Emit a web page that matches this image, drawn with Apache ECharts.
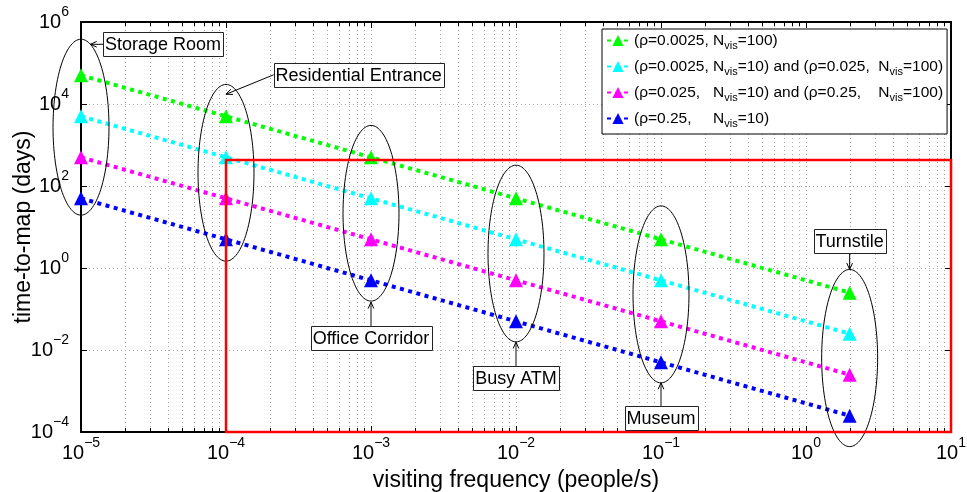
<!DOCTYPE html>
<html>
<head>
<meta charset="utf-8">
<script src="https://cdn.jsdelivr.net/npm/echarts@6/dist/echarts.min.js"></script>
<style>
  html, body { margin: 0; padding: 0; background: #fff; }
  #chart { width: 967px; height: 492px; }
</style>
</head>
<body>
<div id="chart"></div>
<script>
// ---- data ----
const frequencies = [1e-5, 1e-4, 1e-3, 1e-2, 1e-1, 2];
const seriesNames = [
  '(ρ=0.0025, Nvis=100)',
  '(ρ=0.0025, Nvis=10) and (ρ=0.025,  Nvis=100)',
  '(ρ=0.025,   Nvis=10) and (ρ=0.25,    Nvis=100)',
  '(ρ=0.25,     Nvis=10)'
];
const greenValues   = [5e4, 5e3, 500, 50, 5, 0.25];
const cyanValues    = [5e3, 500, 50, 5, 0.5, 0.025];
const magentaValues = [500, 50, 5, 0.5, 0.05, 0.0025];
const blueValues    = [50, 5, 0.5, 0.05, 0.005, 0.00025];

const xDecades = [1e-5, 1e-4, 1e-3, 1e-2, 1e-1, 1];
const minorMultipliers = [2, 3, 4, 5, 6, 7, 8, 9];

const placeNames    = ['Storage Room', 'Residential Entrance', 'Office Corridor', 'Busy ATM', 'Museum', 'Turnstile'];
const groupX        = [1e-5, 1e-4, 1e-3, 1e-2, 1e-1, 2];
const groupTop      = [3.8e5, 3.0e4, 3.0e3, 321, 32.7, 0.92];
const groupBottom   = [19.5, 1.47, 0.156, 0.0158, 1.58e-3, 4.4e-5];

const regionCorners = [1e-4, 1e-4, 10, 430];

// ---- styling ----
const FONT = '"Liberation Sans", Arial, Helvetica, sans-serif';
const colors = ['#00ff00', '#00ffff', '#ff00ff', '#0000ff'];
const GRID_COLOR = '#a8a8a8';
const ELLIPSE_HALF_WIDTH_DEC = 0.193;   // half width of a group ellipse, in decades of x
const LABEL_FONT_SIZE = 18;
const BOX_PAD_X = 2, BOX_PAD_Y = 3;

// callout boxes placed in data space; arrows point at the group ellipses
const callouts = [
  { box: [3.68e-5, 2.86e5], tip: [1.16e-5, 2.86e5], from: 'left',   line: '#000', width: 1 },
  { box: [8.22e-4, 5.16e4], tip: [1.0e-4, 1.73e4],  from: 'left',   line: '#000', width: 1 },
  { box: [1e-3, 0.0195],    tip: [1e-3, 0.147],     from: 'top',    line: '#6a6a6a', width: 1.6 },
  { box: [1e-2, 2.05e-3],   tip: [1e-2, 0.0156],    from: 'top',    line: '#6a6a6a', width: 1.6 },
  { box: [1e-1, 2.16e-4],   tip: [1e-1, 1.58e-3],   from: 'top',    line: '#6a6a6a', width: 1.6 },
  { box: [2, 4.65],         tip: [2, 0.92],         from: 'bottom', line: '#000', width: 1 }
];

const measureCtx = document.createElement('canvas').getContext('2d');
function textWidth(str, size) {
  measureCtx.font = size + 'px ' + FONT;
  return measureCtx.measureText(str).width;
}

function powerLabel(v) {
  const e = Math.round(Math.log10(v));
  return '{b|10}{s|' + (e < 0 ? '\u2212' : '') + Math.abs(e) + '}';
}
const powerRich = {
  b: { fontSize: 20, fontFamily: FONT, color: '#000' },
  s: { fontSize: 14, fontFamily: FONT, color: '#000', padding: [0, 0, 20, 0] }
};

const minorValues = [];
xDecades.forEach(d => minorMultipliers.forEach(m => minorValues.push([d * m, 1])));

const valueSets = [greenValues, cyanValues, magentaValues, blueValues];
const lineSeries = valueSets.map((vals, k) => ({
  name: seriesNames[k],
  type: 'line',
  xAxisIndex: 0,
  yAxisIndex: 0,
  data: frequencies.map((f, i) => [f, vals[i]]),
  symbol: 'triangle',
  symbolSize: 14,
  showSymbol: true,
  clip: false,
  z: 3,
  color: colors[k],
  itemStyle: { color: colors[k], borderWidth: 0 },
  lineStyle: { color: colors[k], width: 4, type: [4, 4.5], cap: 'butt' },
  emphasis: { disabled: true }
}));

const chart = echarts.init(document.getElementById('chart'), null, { renderer: 'canvas' });

const commonX = { type: 'log', logBase: 10, min: 1e-5, max: 10, splitNumber: 6 };
const commonY = { type: 'log', logBase: 100, min: 1e-4, max: 1e6, splitNumber: 5 };

chart.setOption({
  animation: false,
  backgroundColor: '#fff',
  grid: { left: 81, right: 16, top: 22, bottom: 60, outerBoundsMode: 'none', show: false },
  legend: {
    orient: 'vertical',
    left: 602,
    top: 29,
    itemWidth: 22,
    itemHeight: 14,
    itemGap: 5,
    padding: [1, 4, 5, 4],
    backgroundColor: '#fff',
    borderColor: '#000',
    borderWidth: 1,
    borderRadius: 0,
    selectedMode: false,
    data: seriesNames,
    formatter: n => n.replace(/Nvis/g, 'N{sub|vis}'),
    textStyle: {
      fontFamily: FONT, fontSize: 15.5, color: '#000', lineHeight: 18,
      rich: { sub: { fontFamily: FONT, fontSize: 11, lineHeight: 10, color: '#000', padding: [10, 0, 0, 0] } }
    }
  },
  xAxis: [
    Object.assign({}, commonX, {
      position: 'bottom',
      name: 'visiting frequency (people/s)',
      nameLocation: 'middle',
      nameGap: 37,
      nameMoveOverlap: false,
      nameTextStyle: { fontFamily: FONT, fontSize: 23, color: '#000' },
      axisLine: { show: true, onZero: false, lineStyle: { color: '#000', width: 2 } },
      axisTick: { show: true, inside: true, length: 6, lineStyle: { color: '#000', width: 1 } },
      axisLabel: { show: true, margin: 4, formatter: powerLabel, rich: powerRich, showMinLabel: true, showMaxLabel: true },
      splitLine: { show: true, lineStyle: { color: GRID_COLOR, width: 1, type: [1, 3] } },
      minorTick: { show: false },
      minorSplitLine: { show: false }
    }),
    Object.assign({}, commonX, {
      position: 'top',
      axisLine: { show: true, onZero: false, lineStyle: { color: '#000', width: 2 } },
      axisTick: { show: true, inside: true, length: 6, lineStyle: { color: '#000', width: 1 } },
      axisLabel: { show: false },
      splitLine: { show: false }
    })
  ],
  yAxis: [
    Object.assign({}, commonY, {
      position: 'left',
      name: 'time-to-map (days)',
      nameLocation: 'middle',
      nameGap: 46,
      nameMoveOverlap: false,
      nameTextStyle: { fontFamily: FONT, fontSize: 23, color: '#000' },
      axisLine: { show: true, onZero: false, lineStyle: { color: '#000', width: 2 } },
      axisTick: { show: true, inside: true, length: 6, lineStyle: { color: '#000', width: 1 } },
      axisLabel: { show: true, margin: 12, formatter: powerLabel, rich: powerRich, showMinLabel: true, showMaxLabel: true },
      splitLine: { show: true, lineStyle: { color: GRID_COLOR, width: 1, type: [1, 3] } }
    }),
    Object.assign({}, commonY, {
      position: 'right',
      axisLine: { show: true, onZero: false, lineStyle: { color: '#000', width: 2 } },
      axisTick: { show: true, inside: true, length: 6, lineStyle: { color: '#000', width: 1 } },
      axisLabel: { show: false },
      splitLine: { show: false }
    })
  ],
  series: [
    // minor grid lines and minor ticks on the x axis (2..9 within each decade)
    {
      type: 'custom',
      name: 'minor-grid',
      xAxisIndex: 0, yAxisIndex: 0,
      data: minorValues.filter(v => v[0] < 10),
      encode: { x: 0, y: 1 },
      clip: false,
      silent: true,
      z: 0,
      renderItem(params, api) {
        const x = Math.round(api.coord([api.value(0), 1])[0]) + 0.5;
        const top = params.coordSys.y;
        const bottom = top + params.coordSys.height;
        return {
          type: 'group',
          children: [
            { type: 'line', shape: { x1: x, y1: top, x2: x, y2: bottom },
              style: { stroke: GRID_COLOR, lineWidth: 1, lineDash: [1, 3] } },
            { type: 'line', shape: { x1: x, y1: bottom, x2: x, y2: bottom - 4 },
              style: { stroke: '#000', lineWidth: 1 } },
            { type: 'line', shape: { x1: x, y1: top, x2: x, y2: top + 4 },
              style: { stroke: '#000', lineWidth: 1 } }
          ]
        };
      }
    },
    ...lineSeries,
    // ellipses grouping the points of each location
    {
      type: 'custom',
      name: 'groups',
      xAxisIndex: 0, yAxisIndex: 0,
      data: groupX.map((x, i) => [x, groupTop[i], groupBottom[i]]),
      encode: { x: 0, y: [1, 2] },
      clip: false,
      silent: true,
      z: 4,
      renderItem(params, api) {
        const x = api.value(0);
        const pTop = api.coord([x, api.value(1)]);
        const pBot = api.coord([x, api.value(2)]);
        const pRight = api.coord([x * Math.pow(10, ELLIPSE_HALF_WIDTH_DEC), api.value(1)]);
        const cx = pTop[0], cy = (pTop[1] + pBot[1]) / 2;
        const rx = pRight[0] - pTop[0], ry = (pBot[1] - pTop[1]) / 2;
        const pts = [];
        for (let k = 0; k < 120; k++) {
          const t = k / 120 * Math.PI * 2;
          pts.push([cx + rx * Math.cos(t), cy + ry * Math.sin(t)]);
        }
        return { type: 'polygon', shape: { points: pts }, style: { fill: null, stroke: '#000', lineWidth: 1 } };
      }
    },
    // highlighted region
    {
      type: 'custom',
      name: 'region',
      xAxisIndex: 0, yAxisIndex: 0,
      data: [regionCorners],
      encode: { x: [0, 2], y: [1, 3] },
      clip: false,
      silent: true,
      z: 6,
      renderItem(params, api) {
        const p0 = api.coord([api.value(0), api.value(1)]);
        const p1 = api.coord([api.value(2), api.value(3)]);
        return {
          type: 'rect',
          shape: { x: p0[0], y: p1[1], width: p1[0] - p0[0], height: p0[1] - p1[1] },
          style: { fill: null, stroke: '#ff0000', lineWidth: 2.5 }
        };
      }
    },
    // callout boxes with arrows
    {
      type: 'custom',
      name: 'callouts',
      xAxisIndex: 0, yAxisIndex: 0,
      data: callouts.map(c => c.box),
      encode: { x: 0, y: 1 },
      clip: false,
      silent: true,
      z: 8,
      renderItem(params, api) {
        const i = params.dataIndex;
        const c = callouts[i];
        const ctr = api.coord(c.box);
        const tip = api.coord(c.tip);
        const w = Math.round(textWidth(placeNames[i], LABEL_FONT_SIZE) + 2 * BOX_PAD_X);
        const h = LABEL_FONT_SIZE + 2 * BOX_PAD_Y;
        let start;
        if (c.from === 'left') start = [ctr[0] - w / 2, ctr[1]];
        else if (c.from === 'top') start = [ctr[0], ctr[1] - h / 2];
        else start = [ctr[0], ctr[1] + h / 2];
        const ang = Math.atan2(tip[1] - start[1], tip[0] - start[0]);
        const L = 7, spread = 0.42;
        const a1 = [tip[0] - L * Math.cos(ang - spread), tip[1] - L * Math.sin(ang - spread)];
        const a2 = [tip[0] - L * Math.cos(ang + spread), tip[1] - L * Math.sin(ang + spread)];
        const bx = Math.round(ctr[0] - w / 2) + 0.5, by = Math.round(ctr[1] - h / 2) + 0.5;
        return {
          type: 'group',
          children: [
            { type: 'line', shape: { x1: start[0], y1: start[1], x2: tip[0], y2: tip[1] },
              style: { stroke: c.line, lineWidth: c.width } },
            { type: 'polyline', shape: { points: [a1, tip, a2] },
              style: { stroke: '#000', lineWidth: 1, fill: null } },
            { type: 'rect', shape: { x: bx, y: by, width: w, height: h },
              style: { fill: '#fff', stroke: '#222', lineWidth: 1 } },
            { type: 'text',
              style: { text: placeNames[i], x: ctr[0], y: ctr[1] + 1, align: 'center', verticalAlign: 'middle',
                       fontFamily: FONT, fontSize: LABEL_FONT_SIZE, fill: '#000' } }
          ]
        };
      }
    }
  ]
});
</script>
</body>
</html>
